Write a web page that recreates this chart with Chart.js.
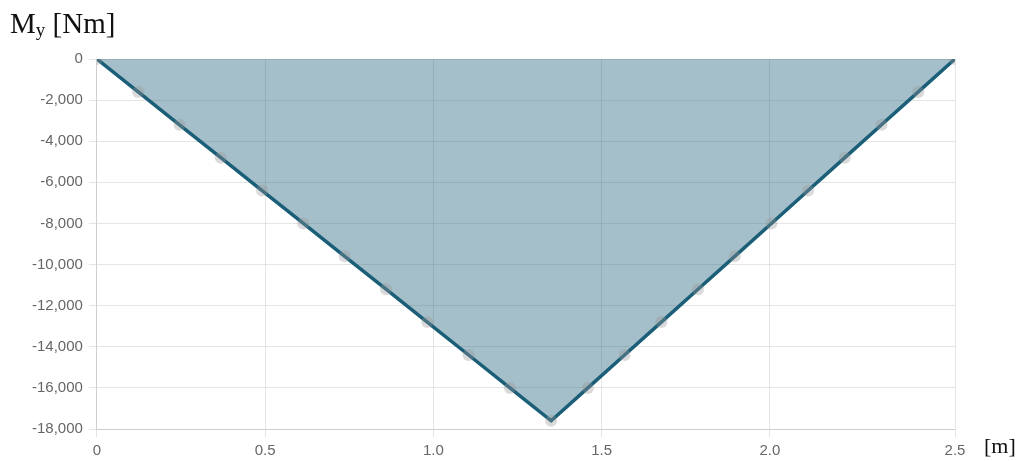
<!DOCTYPE html>
<html>
<head>
<meta charset="utf-8">
<script src="https://cdn.jsdelivr.net/npm/chart.js@4"></script>
<style>
  html, body { margin: 0; padding: 0; background: #fff; }
  #wrap { position: relative; width: 1020px; height: 461px; }
  .axisTitle { position: absolute; font-family: "Liberation Serif", "Times New Roman", serif; color: #111; white-space: nowrap; }
  #yTitle { left: 10px; top: 7px; font-size: 29px; }
  #yTitle sub { font-size: 19px; vertical-align: -3px; }
  #xTitle { left: 984px; top: 433px; font-size: 22px; }
</style>
</head>
<body>
<div id="wrap">
  <canvas id="momentChart" width="1020" height="461"></canvas>
  <div class="axisTitle" id="yTitle">M<sub>y</sub> [Nm]</div>
  <div class="axisTitle" id="xTitle">[m]</div>
</div>
<script>
// beam positions [m] and bending moment My [Nm]
const positions = [0, 0.1227, 0.2455, 0.3682, 0.4909, 0.6136, 0.7364, 0.8591, 0.9818, 1.1045, 1.2273, 1.35,
                   1.4591, 1.5682, 1.6773, 1.7864, 1.8955, 2.0045, 2.1136, 2.2227, 2.3318, 2.4409, 2.55];
const moments = [0, -1600, -3200, -4800, -6400, -8000, -9600, -11200, -12800, -14400, -16000, -17600,
                 -16000, -14400, -12800, -11200, -9600, -8000, -6400, -4800, -3200, -1600, 0];
const yTicks = [0, -2000, -4000, -6000, -8000, -10000, -12000, -14000, -16000, -18000];
// last tick sits on the beam end (2.55) and is shown rounded as "2.5"
const xTicks = [0, 0.5, 1.0, 1.5, 2.0, 2.55];

const points = positions.map((x, i) => ({ x: x, y: moments[i] }));

const ctx = document.getElementById('momentChart');
new Chart(ctx, {
    type: 'line',
    data: {
        datasets: [{
            label: 'My',
            data: points,
            borderColor: '#1b5e78',
            borderWidth: 3.5,
            backgroundColor: 'rgba(27, 94, 120, 0.4)',
            fill: 'origin',
            tension: 0,
            pointRadius: 6,
            pointBorderWidth: 0,
            pointBackgroundColor: 'rgba(150, 150, 150, 0.35)',
            pointBorderColor: 'rgba(0, 0, 0, 0)'
        }]
    },
    options: {
        responsive: false,
        animation: false,
        layout: { padding: { left: 26, right: 65, top: 59, bottom: -3 } },
        plugins: {
            legend: { display: false },
            tooltip: { enabled: false }
        },
        scales: {
            x: {
                type: 'linear',
                min: 0,
                max: 2.55,
                afterBuildTicks: function(scale) {
                    scale.ticks = xTicks.map(v => ({ value: v }));
                },
                ticks: {
                    color: '#666',
                    maxRotation: 0,
                    padding: 6,
                    font: { family: 'Liberation Sans, Arial, sans-serif', size: 15, lineHeight: 1 },
                    callback: function(v) { return v === 0 ? '0' : v.toFixed(1); }
                },
                grid: { color: 'rgba(0,0,0,0.1)' }
            },
            y: {
                min: -18000,
                max: 0,
                afterBuildTicks: function(scale) {
                    scale.ticks = yTicks.map(v => ({ value: v }));
                },
                ticks: {
                    color: '#666',
                    padding: 6,
                    font: { family: 'Liberation Sans, Arial, sans-serif', size: 15 },
                    callback: function(v) { return v.toLocaleString('en-US'); }
                },
                grid: { color: 'rgba(0,0,0,0.1)' }
            }
        }
    }
});
</script>
</body>
</html>
